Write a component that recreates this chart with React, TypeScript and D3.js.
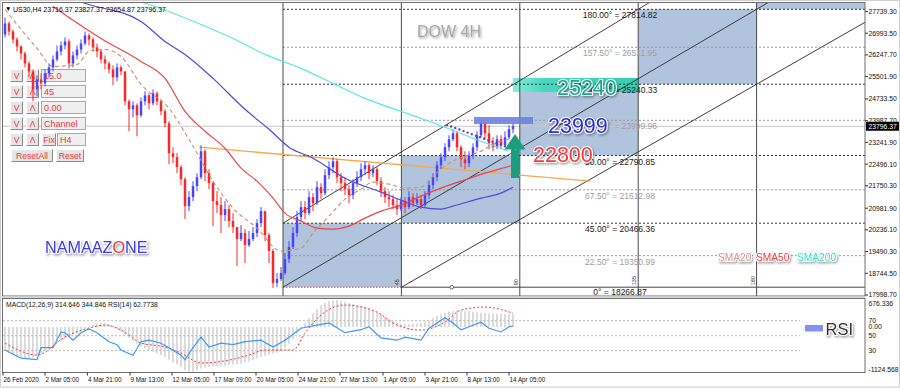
import React from "react";
import * as d3 from "d3";

// ---------- DATA ----------
const firstOpen = 26950;
const closes = [27328,27053,26779,26539,26299,25956,25682,25065,25407,25270,25613,25819,26093,26368,26573,26710,25956,26230,26436,26642,26916,26779,26505,26368,26093,25956,25750,25476,25819,25682,24653,24379,24516,24173,24653,24859,24584,24927,24653,24310,23899,22870,22733,22390,21978,21053,21361,21738,22047,22938,22184,21841,21224,21087,20744,20950,20538,20332,19921,20127,19715,19921,20127,20470,20881,20058,19510,18412,18549,18755,19235,19647,20127,20675,21018,20813,21361,21155,21704,21498,22116,22390,22596,22047,21841,21636,21430,21841,22047,22321,22458,22184,22321,21910,21567,21361,21293,21087,20950,21224,21018,21361,21155,21293,21087,21430,21773,22047,22458,22733,23076,23350,23556,23076,22664,22527,22801,23076,23487,23899,23556,23213,23076,23350,23144,23419,23693,23796];
const highs = [27533,27396,27122,26848,26573,26368,26025,25750,25545,25613,25750,25956,26230,26573,26710,26848,26779,26368,26573,26779,27053,26985,26848,26642,26436,26230,26025,25887,25956,25887,24996,24722,24653,24584,24790,24996,24927,25065,24996,24722,24379,23967,23076,22870,22458,22047,21567,21910,22184,23144,23007,22321,21910,21567,21361,21224,21087,20813,20332,20401,20264,20195,20332,20607,21018,20881,20127,19578,18755,18961,19441,19852,20332,20881,21224,21224,21567,21498,21910,21841,22321,22596,22733,22664,22184,22047,21773,21978,22253,22527,22596,22527,22458,22390,22047,21704,21567,21430,21293,21361,21361,21567,21498,21498,21430,21567,21910,22184,22596,22870,23213,23487,23693,23624,23144,22938,22938,23213,23624,24001,23967,23830,23419,23487,23487,23624,23830,23899];
const lows = [26848,26916,26642,26368,26093,25819,25476,24653,24824,25065,25167,25476,25682,26025,26230,26436,25785,25819,26093,26299,26573,26573,26368,26162,25956,25750,25613,25202,25339,25545,24516,23624,24104,23453,24104,24516,24379,24516,24516,24173,23761,22493,22527,22184,21773,20607,20881,21224,21567,21978,21910,21636,20367,20813,20127,20538,20332,20127,18995,19852,19098,19647,19852,19990,20332,19852,19098,18241,18275,18481,18687,19098,19578,19990,20538,20607,20744,20881,21087,21293,21430,21978,22184,21841,21567,21430,21155,21293,21704,21910,22116,21978,22047,21773,21361,21155,21018,20950,20744,20881,20813,20950,21018,21087,20950,21018,21293,21636,21910,22321,22596,22938,23281,22938,22390,22321,22390,22664,22938,23419,23350,23007,22938,23007,23007,23076,23350,23556];

const sma20Idx = [0,8,12,18,21,25,29,34,41,47,52,57,63,69,74,77,81,85,89,92,96,100,104,107,111,115,119,122,126];
const sma20Val = [27808,26470,25853,25922,26368,26436,26196,25236,24413,23110,21910,20984,20298,19510,19612,20127,20710,21293,21636,21876,21807,21670,21704,22081,22527,22767,22938,23179,23350];
const sma50Idx = [12,24,34,40,45,50,55,59,63,67,70,74,78,82,86,90,94,99,104,109,114,120,127];
const sma50Val = [27911,26813,26025,25442,24310,23624,23041,22356,21910,21327,20813,20538,20298,20264,20367,20641,20881,21087,21395,21670,21910,22184,22458];
const sma100Idx = [17,21,34,40,45,52,60,66,71,77,85,94,99,104,109,112,119,124,127];
const sma100Val = [28151,27979,27396,26710,26265,25442,24379,23693,23076,22699,22013,21533,21258,21018,20950,21053,21327,21498,21704];
const sma200Idx = [31,36,49,57,65,74,82,90,99,106,112,119,126];
const sma200Val = [28185,27979,27293,26813,26265,25785,25270,24756,24310,23967,23659,23281,22938];

const orangeIdx = [48.5, 146.25];
const orangeVal = [23076, 21910];
const purpleIdx = [110.5, 127.5];
const purpleVal = [23839, 22980];

const gannAngles = ["0°","22.50°","45.00°","67.50°","90.00°","112.50°","135.00°","157.50°","180.00°"];
const gannPrices = [18266.87,19350.99,20466.36,21612.98,22790.85,23999.96,25240.33,26511.95,27814.82];
const gannTimes = [69.5, 99.1, 128.7, 158.3, 187.9];
const gannTimeLabels = ["45","90","135","180"];

const priceTicks = [27739.30,26993.50,26247.70,25501.90,24733.50,23987.70,23241.90,22496.10,21750.30,20981.90,20236.10,19490.30,18744.50,17998.70];
const lastPrice = 23796.37;

const timeLabels = ["26 Feb 2020","2 Mar 05:00","4 Mar 21:00","9 Mar 13:00","12 Mar 05:00","17 Mar 09:00","20 Mar 05:00","24 Mar 21:00","27 Mar 13:00","1 Apr 05:00","3 Apr 21:00","8 Apr 13:00","14 Apr 05:00"];
const timeIdx = [-0.5,10,20.6,31.25,41.75,52.25,62.75,73.25,83.75,94.5,105,115.5,126];

const macdHist = [-600,-650,-700,-740,-770,-790,-780,-760,-720,-660,-600,-540,-480,-420,-350,-290,-240,-190,-140,-90,-40,10,60,90,110,100,70,20,-40,-110,-190,-270,-350,-420,-480,-530,-580,-620,-660,-700,-750,-820,-880,-940,-1000,-1080,-1120,-1110,-1080,-1040,-1020,-1000,-990,-980,-970,-960,-950,-940,-930,-910,-890,-860,-830,-790,-750,-720,-690,-670,-640,-590,-520,-420,-300,-170,-40,90,220,340,450,540,610,650,670,676,660,630,600,570,540,520,500,470,430,380,320,260,200,150,110,80,70,70,80,90,110,140,180,230,280,320,350,380,400,410,410,400,390,380,370,360,350,340,335,330,325,320,318,315];
const signalIdx = [0,8,15,22,25,29,34,40,44,49,53,61,65,72,75,79,85,93,97,104,110,114,120,127];
const signalVal = [-400,-700,-250,0,50,-75,-400,-500,-650,-900,-875,-700,-575,-575,-150,300,550,375,100,-75,125,425,500,345];
const rsiIdx = [0,4,8,9,12,14,15,17,19,21,23,26,28,29,32,34,36,39,41,44,45,47,49,51,54,57,60,64,67,70,74,77,81,85,89,91,94,98,100,104,106,110,112,114,116,119,121,124,126,127];
const rsiVal = [31,20,18,34,34,55,54,44,54,59,54,42,38,31,24,42,44,40,34,24,18,34,48,35,40,38,42,44,35,44,60,63,67,54,58,62,47,44,48,44,60,74,67,58,62,68,60,55,62,63];
const rsiLevels = [70,50,30];

const subLabels = ["676.336","70","0.00","50","30","-1124.568"];
const subLabelY = [305.5,323,329.2,338,353.2,371.5];

const panelRows = [["V","Λ","15.0"],["V","Λ","45"],["V","Λ","0.00"],["V","Λ","Channel"]];

// ---------- SCALES ----------
const xS = d3.scaleLinear().domain([0, 127]).range([5, 513]);
const yS = d3.scaleLinear().domain([17998.7, 27739.3]).range([295, 11.5]);
const macdY = d3.scaleLinear().domain([-1124.568, 676.336]).range([372, 300]);
const rsiY = d3.scaleLinear().domain([0, 100]).range([373.2, 298.2]);

const FONT = "'Liberation Sans', Arial, sans-serif";
const RIGHT = 865;

function maPath(idx: number[], val: number[]) {
  const line = d3.line<number>().x((_, i) => xS(idx[i])).y((v) => yS(v)).curve(d3.curveMonotoneX);
  return line(val) || "";
}

function extLine(t1: number, p1: number, t2: number, p2: number) {
  const x1 = xS(t1), y1 = yS(p1), x2 = xS(t2), y2 = yS(p2);
  const k = (y2 - y1) / (x2 - x1);
  const xe = 900;
  return { x1, y1, x2: xe, y2: y1 + k * (xe - x1) };
}

function Button({ x, y, w, h, label }: { x: number; y: number; w: number; h: number; label: string }) {
  return (
    <g>
      <rect x={x} y={y} width={w} height={h} fill="#e6e6e6" />
      <path d={`M${x + 0.5},${y + h - 0.5} V${y + 0.5} H${x + w - 0.5}`} stroke="#ffffff" fill="none" />
      <path d={`M${x + 0.5},${y + h - 0.5} H${x + w - 0.5} V${y + 0.5}`} stroke="#8a8a8a" fill="none" />
      <text x={x + w / 2} y={y + h - 3} textAnchor="middle" fontSize={8.6} fill="#e23b3b" fontFamily={FONT}>{label}</text>
    </g>
  );
}

function Box({ x, y, w, h, label }: { x: number; y: number; w: number; h: number; label: string }) {
  return (
    <g>
      <rect x={x + 0.5} y={y + 0.5} width={w - 1} height={h - 1} fill="#efefef" stroke="#f08a8a" />
      <text x={x + 3} y={y + h - 3} fontSize={9} fill="#e23b3b" fontFamily={FONT}>{label}</text>
    </g>
  );
}

export default function App() {
  const opens = closes.map((_, i) => (i === 0 ? firstOpen : closes[i - 1]));
  const lvlY = gannPrices.map((p) => yS(p));
  const gx = gannTimes.map((t) => xS(t));

  const U = extLine(gannTimes[0], gannPrices[2], gannTimes[3], gannPrices[8]);
  const L0 = extLine(gannTimes[0], gannPrices[0], gannTimes[4], gannPrices[8]);
  const D1 = extLine(gannTimes[1], gannPrices[0], gannTimes[4], gannPrices[6]);

  const rsiLine = d3.line<number>().x((_, i) => xS(rsiIdx[i])).y((v) => rsiY(v))(rsiVal) || "";
  const sigLine = d3.line<number>().x((_, i) => xS(signalIdx[i])).y((v) => macdY(v)).curve(d3.curveMonotoneX)(signalVal) || "";

  const halo = { paintOrder: "stroke" as const, stroke: "#ffffff", strokeWidth: 2.2, strokeLinejoin: "round" as const };

  return (
    <div style={{ width: 900, height: 388 }}>
      <style>{`body{margin:0;padding:0;overflow:hidden}`}</style>
      <svg width={900} height={388} style={{ display: "block" }} fontFamily={FONT}>
        <defs>
          <clipPath id="mainClip"><rect x={3} y={3} width={RIGHT - 3} height={293} /></clipPath>
          <clipPath id="subClip"><rect x={3} y={298.5} width={RIGHT - 3} height={74} /></clipPath>
          <filter id="sh" x="-20%" y="-30%" width="140%" height="170%">
            <feDropShadow dx="1.2" dy="1.5" stdDeviation="1" floodColor="#000" floodOpacity="0.35" />
          </filter>
          <linearGradient id="teal" x1="0" x2="1" y1="0" y2="0">
            <stop offset="0" stopColor="#86eedd" />
            <stop offset="0.25" stopColor="#45d8bd" />
            <stop offset="1" stopColor="#34cdb1" />
          </linearGradient>
        </defs>

        <rect x={0} y={0} width={900} height={388} fill="#ffffff" />
        <rect x={0.5} y={0.5} width={899} height={387} fill="none" stroke="#d0d0d0" />

        {/* ---------- MAIN WINDOW ---------- */}
        <g clipPath="url(#mainClip)">
          {[0, 1, 2, 3].map((k) => (
            <rect key={k} x={gx[k]} y={lvlY[2 * k + 2]} width={gx[k + 1] - gx[k]} height={lvlY[2 * k] - lvlY[2 * k + 2]} fill="#b1c4de" />
          ))}
          <rect x={gx[4]} y={0} width={RIGHT - gx[4]} height={lvlY[8]} fill="#b1c4de" />

          <rect x={xS(127)} y={yS(25454)} width={xS(158.5) - xS(127)} height={yS(24973) - yS(25454)} fill="url(#teal)" />

          {gannPrices.map((p, i) =>
            i === 0 ? null : (
              <line key={i} x1={gx[0]} x2={RIGHT} y1={lvlY[i]} y2={lvlY[i]} stroke={i % 2 === 0 ? "#333" : "#9a9a9a"} strokeDasharray="2,2" strokeWidth={1} />
            )
          )}
          <line x1={gx[0]} x2={gx[1]} y1={lvlY[0]} y2={lvlY[0]} stroke="#ff3030" strokeDasharray="1.5,1.5" />
          <line x1={gx[1]} x2={RIGHT} y1={lvlY[0]} y2={lvlY[0]} stroke="#444" />

          <line x1={3} x2={RIGHT} y1={yS(lastPrice)} y2={yS(lastPrice)} stroke="#c8c8c8" />

          {gx.map((x, i) => (
            <line key={i} x1={x} x2={x} y1={3} y2={296} stroke="#4a4a4a" strokeWidth={1} />
          ))}
          {gannTimeLabels.map((t, i) => (
            <text key={i} transform={`translate(${gx[i + 1] - 2},${lvlY[0] - 2}) rotate(-90)`} fontSize={5.5} fill="#333">{t}</text>
          ))}
          <circle cx={xS(111.7)} cy={lvlY[0]} r={1.8} fill="#fff" stroke="#444" strokeWidth={0.8} />

          {[U, L0, D1].map((l, i) => (
            <line key={i} x1={l.x1} y1={l.y1} x2={l.x2} y2={l.y2} stroke="#2a2a2a" strokeWidth={0.9} />
          ))}

          {gannPrices.map((p, i) => (
            <text key={i} x={620} y={i === 0 ? lvlY[i] + 7.5 : lvlY[i] + 9} textAnchor="middle" fontSize={8.5} fill={i % 2 === 0 ? "#1a1a1a" : "#a0a0a0"}>
              {`${gannAngles[i]} = ${p.toFixed(2)}`}
            </text>
          ))}

          <g>
            {panelRows.map((r, k) => {
              const y = 69 + k * 16;
              return (
                <g key={k}>
                  <Button x={10} y={y} w={13} h={13} label={r[0]} />
                  <Button x={26} y={y} w={13} h={13} label={r[1]} />
                  <Box x={41} y={y} w={45} h={13} label={r[2]} />
                </g>
              );
            })}
            <Button x={10} y={133} w={13} h={13} label="V" />
            <Button x={26} y={133} w={13} h={13} label="Λ" />
            <Button x={42} y={133} w={14} h={13} label="Fix" />
            <Box x={57} y={133} w={29} h={13} label="H4" />
            <Button x={11} y={149} w={42} h={13} label="ResetAll" />
            <Button x={56} y={149} w={28} h={13} label="Reset" />
          </g>

          <line x1={xS(orangeIdx[0])} y1={yS(orangeVal[0])} x2={xS(orangeIdx[1])} y2={yS(orangeVal[1])} stroke="#f7a84a" strokeWidth={1.3} />

          {closes.map((c, i) => {
            const o = opens[i];
            const up = c >= o;
            const col = up ? "#4747f5" : "#f52a2a";
            const x = xS(i);
            const yT = yS(Math.max(o, c));
            const yB = yS(Math.min(o, c));
            return (
              <g key={i}>
                <line x1={x} x2={x} y1={yS(highs[i])} y2={yS(lows[i])} stroke={col} strokeWidth={1} />
                <rect x={x - 1.25} y={yT} width={2.5} height={Math.max(1, yB - yT)} fill={col} />
              </g>
            );
          })}

          <path d={maPath(sma200Idx, sma200Val)} fill="none" stroke="#5ae6e6" strokeWidth={1.2} />
          <path d={maPath(sma100Idx, sma100Val)} fill="none" stroke="#4b4bdc" strokeWidth={1.2} />
          <path d={maPath(sma50Idx, sma50Val)} fill="none" stroke="#ec4545" strokeWidth={1.2} />
          <path d={maPath(sma20Idx, sma20Val)} fill="none" stroke="#c8906a" strokeWidth={1.1} strokeDasharray="4,3" />

          <line x1={xS(purpleIdx[0])} y1={yS(purpleVal[0])} x2={xS(purpleIdx[1])} y2={yS(purpleVal[1])} stroke="#6c3fa0" strokeWidth={2.4} strokeDasharray="0,4.4" strokeLinecap="round" />

          <rect x={xS(117.25)} y={yS(24114)} width={xS(132) - xS(117.25)} height={yS(23874) - yS(24114)} fill="#6a80e4" opacity={0.88} />

          <g fill="#1a9e7e">
            <rect x={xS(127.5) - 4} y={yS(23000)} width={8} height={yS(22018) - yS(23000)} />
            <path d={`M${xS(127.5) - 10.5},${yS(23000)} L${xS(127.5) + 10.5},${yS(23000)} L${xS(127.5)},${yS(23530)} Z`} />
          </g>

          <text x={417} y={37} fontSize={16} fill="#a6a6a6" filter="url(#sh)">DOW 4H</text>
          <g filter="url(#sh)" fontSize={21.5}>
            <text x={557} y={94.5} fill="#17a88a" style={halo}>25240</text>
            <text x={548} y={132.5} fill="#2b2bdc" style={halo}>23999</text>
            <text x={533} y={161.5} fill="#f23c3c" style={halo}>22800</text>
          </g>
          <text x={45} y={252.5} fontSize={16.2} fill="#3b3bef" filter="url(#sh)" style={halo}>
            NAMAAZ<tspan fill="#e83232">O</tspan>NE
          </text>
          <g fontSize={10.2} filter="url(#sh)" style={halo}>
            <text x={718} y={261} fill="#cf9494">SMA20</text>
            <text x={756} y={261} fill="#f03a3a">SMA50</text>
            <text x={797} y={261} fill="#36dcc4">SMA200</text>
          </g>

          <text x={5} y={11} fontSize={6.5} fill="#000">▼</text>
          <text x={13} y={11.5} fontSize={7} fill="#000">US30,H4  23716.37 23827.37 23654.87 23796.37</text>
        </g>

        <rect x={2.5} y={2.5} width={RIGHT - 2.5} height={293.5} fill="none" stroke="#6e6e6e" />

        {priceTicks.map((p, i) => (
          <g key={i}>
            <line x1={RIGHT} x2={RIGHT + 3} y1={yS(p)} y2={yS(p)} stroke="#333" />
            <text x={868.5} y={yS(p) + 2.4} fontSize={6.8} fill="#111">{p.toFixed(2)}</text>
          </g>
        ))}
        <rect x={RIGHT + 1} y={yS(lastPrice) - 4.5} width={33} height={9} fill="#000" />
        <text x={868.5} y={yS(lastPrice) + 2.4} fontSize={6.8} fill="#fff">{lastPrice.toFixed(2)}</text>

        {/* ---------- SUB WINDOW ---------- */}
        <rect x={0} y={296.5} width={RIGHT} height={2} fill="#d9d9d9" />
        <g clipPath="url(#subClip)">
          {rsiLevels.map((l) => (
            <line key={l} x1={3} x2={800} y1={rsiY(l)} y2={rsiY(l)} stroke="#b8b8b8" strokeDasharray="2,2" />
          ))}
          {macdHist.map((v, i) => (
            <line key={i} x1={xS(i)} x2={xS(i)} y1={macdY(0)} y2={macdY(v)} stroke="#c4c4c4" strokeWidth={1.2} />
          ))}
          <path d={sigLine} fill="none" stroke="#ff3030" strokeWidth={1} strokeDasharray="2,2" />
          <path d={rsiLine} fill="none" stroke="#3d9bf2" strokeWidth={1.2} />
          <text x={6} y={306.5} fontSize={6.8} fill="#111">MACD(12,26,9) 314.646 344.846  RSI(14) 62.7738</text>
          <rect x={805} y={325} width={18} height={6.5} fill="#8294f0" />
          <text x={825.5} y={335} fontSize={16.5} fill="#333" filter="url(#sh)" style={halo}>RSI</text>
        </g>
        <rect x={2.5} y={298.5} width={RIGHT - 2.5} height={74} fill="none" stroke="#6e6e6e" />
        {subLabels.map((t, i) => (
          <text key={i} x={868.5} y={subLabelY[i]} fontSize={6.8} fill="#111">{t}</text>
        ))}

        {timeLabels.map((t, i) => (
          <g key={i}>
            <line x1={xS(timeIdx[i])} x2={xS(timeIdx[i])} y1={372.5} y2={375.5} stroke="#333" />
            <text x={xS(timeIdx[i]) + 0.5} y={381.5} fontSize={6.3} fill="#111">{t}</text>
          </g>
        ))}
        <rect x={0} y={386} width={900} height={2} fill="#e4e4e4" />
      </svg>
    </div>
  );
}
